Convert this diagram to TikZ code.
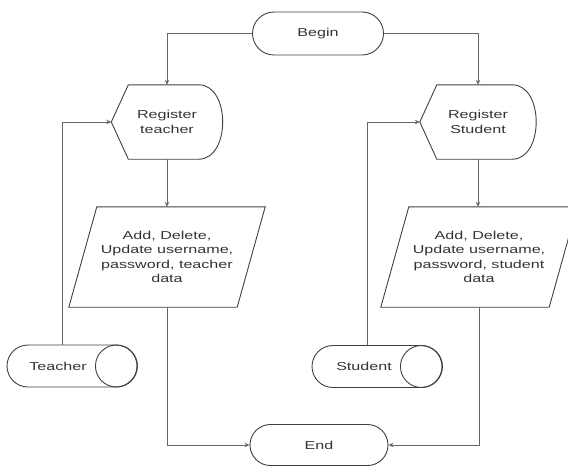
\documentclass[tikz,border=0pt]{standalone}
\usepackage{fontspec}
\setmainfont{Liberation Sans}[FakeStretch=1.4]
\usetikzlibrary{shapes.misc,arrows.meta,calc}

% outline of a flowchart "display" symbol around a node
\newcommand\displayoutline[1]{%
  \path[outline] (#1.west) -- ($(#1.north west)+(17,0)$)
    -- ($(#1.north east)+(-24,0)$)
    .. controls ($(#1.north east)+(8,0)$) and ($(#1.south east)+(8,0)$) .. ($(#1.south east)+(-24,0)$)
    -- ($(#1.south west)+(17,0)$) -- cycle;}
% outline of a data (parallelogram) symbol around a node
\newcommand\paraoutline[1]{%
  \path[outline] (#1.south west) -- ($(#1.south east)+(-28,0)$)
    -- (#1.north east) -- ($(#1.north west)+(28,0)$) -- cycle;}

\begin{document}
\begin{tikzpicture}[x=1pt,y=-1pt,
  outline/.style={draw=black!75, line width=0.9pt},
  line/.style={draw=black!60, line width=0.9pt},
  arrow/.style={line, -{Stealth[length=5pt,width=4.5pt]}},
  lbl/.style={font=\fontsize{11.5}{14.5}\selectfont, text=black!80, align=center, inner sep=0pt},
  term/.style={lbl, rounded rectangle, outline, minimum width=131pt, minimum height=43pt},
  dispbox/.style={lbl, minimum height=74pt},
  databox/.style={lbl, minimum width=196pt, minimum height=100pt},
  storage/.style={rounded rectangle, outline, minimum width=130pt, minimum height=42pt, inner sep=0pt}]

\useasboundingbox (0,0) rectangle (568,467);
\clip (0,0) rectangle (568,467);

% terminators
\node[term] (begin) at (318,33.5) {Begin};
\node[term, minimum width=138pt, minimum height=41pt] (stop) at (319,445) {End};

% registration steps
\node[dispbox, minimum width=111pt] (regT) at (167,122) {Register\\teacher};
\node[dispbox, minimum width=116pt] (regS) at (478,122) {Register\\Student};
\displayoutline{regT}
\displayoutline{regS}

% data maintenance steps
\node[databox] (parT) at (167,257) {Add, Delete,\\Update username,\\password, teacher\\data};
\node[databox] (parS) at (479,257) {Add, Delete,\\Update username,\\password, student\\data};
\paraoutline{parT}
\paraoutline{parS}

% stored data
\node[storage] (stT) at (72,366) {};
\draw[outline] ($(stT.east)+(-21,0)$) circle (21pt);
\node[lbl] (stTtext) at ($(stT.center)+(-14,0)$) {Teacher};
\node[storage] (stS) at (377,366.5) {};
\draw[outline] ($(stS.east)+(-21,0)$) circle (21pt);
\node[lbl] (stStext) at ($(stS.center)+(-13,0)$) {Student};

% connectors
\draw[arrow] (begin.west) -| (regT.north);
\draw[arrow] (begin.east) -| (regS.north);
\draw[arrow] (regT.south) -- (parT.north);
\draw[arrow] (regS.south) -- (regS.south |- parS.north);
\draw[arrow] (parT.south) |- (stop.west);
\draw[arrow] (parS.south) |- (stop.east);
\draw[arrow] ($(stT.north)+(-10,0)$) |- (regT.west);
\draw[arrow] ($(stS.north)+(-10,0)$) |- (regS.west);
\end{tikzpicture}
\end{document}
